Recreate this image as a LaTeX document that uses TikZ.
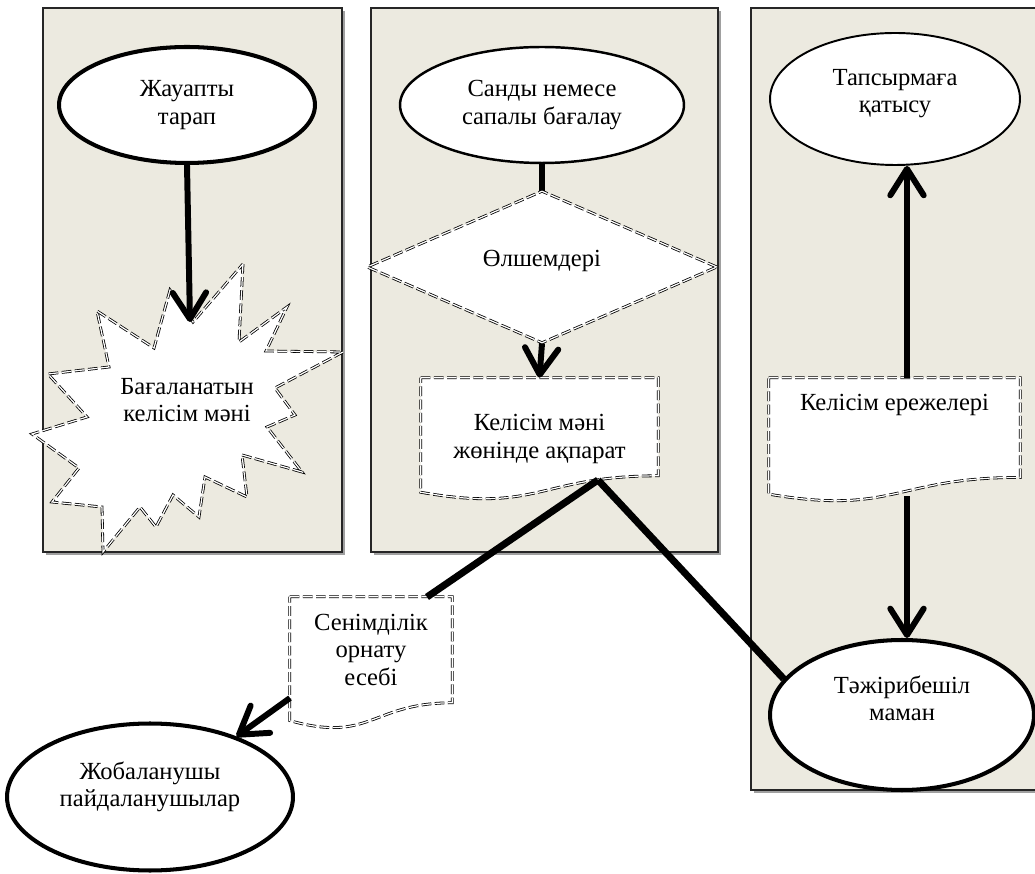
\documentclass[tikz,border=0pt]{standalone}
\usepackage{fontspec}
\setmainfont{Liberation Serif}
\usetikzlibrary{shapes.geometric,arrows.meta,calc}
\definecolor{lanefill}{RGB}{236,234,224}
\definecolor{laneshadow}{RGB}{160,160,160}
\pgfdeclarelayer{lanes}
\pgfdeclarelayer{shapes}
\pgfdeclarelayer{links}
\pgfsetlayers{lanes,shapes,links,main}
\tikzset{>={Straight Barb[length=15pt,width=19pt,round]}}
\tikzset{
  dbl/.style={draw=black,double=white,double distance=0.7pt,line width=0.45pt,dash pattern=on 5.5pt off 2pt},
  lane/.style={fill=lanefill,draw=black!85,line width=0.9pt},
  oval/.style={ellipse,draw,fill=white,inner sep=1pt,align=center},
  docbox/.style={rectangle,inner sep=2pt,align=center}
}
% document symbol drawn round a docbox node
\newcommand\docoutline[1]{%
  \draw[dbl,fill=white] (#1.north west) -- (#1.north east)
    -- ($(#1.north east)!0.8!(#1.south east)$)
    .. controls ($(#1.north)!0.8!(#1.south)$) and ($(#1.north)!1.107!(#1.south)$)
    .. ($(#1.north west)!0.934!(#1.south west)$) -- cycle;}

\begin{document}
\begin{tikzpicture}[x=0.02cm,y=-0.02cm]
\useasboundingbox (0,0) rectangle (1035,874);
\begin{pgfonlayer}{lanes}
\fill[laneshadow] (46,11) rectangle (345,555);
\draw[lane] (43,8) rectangle (342,552);
\fill[laneshadow] (374,11) rectangle (721,555);
\draw[lane] (371,8) rectangle (718,552);
\fill[laneshadow] (754,11) rectangle (1048,793);
\draw[lane] (751,8) rectangle (1045,790);
\end{pgfonlayer}

\begin{scope}[every node/.style={font=\fontsize{14}{15.5}\selectfont}]
\node[oval,line width=2.3pt,minimum width=5.12cm,minimum height=2.32cm] (E1) at (187,105) {Жауапты\\тарап};
\node[oval,line width=1.4pt,minimum width=5.68cm,minimum height=2.32cm] (E2) at (542,105) {Санды немесе\\сапалы бағалау};
\node[oval,line width=1.1pt,minimum width=5cm,minimum height=2.64cm,text depth=9pt] (E3) at (895,99) {Тапсырмаға\\қатысу};
\node[oval,line width=2.3pt,minimum width=5.28cm,minimum height=3cm,text depth=19pt] (E4) at (902,715) {Тәжірибешіл\\маман};
\node[oval,line width=2.3pt,minimum width=5.72cm,minimum height=2.94cm,text depth=15pt] (E5) at (150,797) {Жобаланушы\\пайдаланушылар};
\node[diamond,dbl,fill=white,inner sep=0pt,minimum width=7cm,minimum height=2.24cm,text depth=10pt] (dia) at (542,267) {Өлшемдері};
\node[docbox,minimum width=4.74cm,minimum height=2.44cm] (doc1) at (539.5,439) {Келісім мәні\\жөнінде ақпарат};
\node[docbox,minimum width=3.24cm,minimum height=2.64cm,text depth=15pt] (doc2) at (371,663) {Сенімділік\\орнату\\есебі};
\node[docbox,minimum width=5.02cm,minimum height=2.48cm,text depth=43pt] (doc3) at (894.5,440) {Келісім ережелері};
\node[align=center] (burst) at (187,400) {Бағаланатын\\келісім мәні};
\end{scope}

\coordinate (burstin) at (190,322);
\coordinate (d1out) at (598,480);
\coordinate (d2in) at (427,597);
\coordinate (d2out) at (290,698);
\coordinate (d3in) at (907,378);
\coordinate (d3out) at (907,496);

\begin{pgfonlayer}{shapes}
\draw[dbl,fill=white] (243,264) -- (239,342) -- (287,307) -- (266,351) -- (343,352)
  -- (275,388) -- (295,415) -- (267,427) -- (302,472) -- (242,455) -- (247,497)
  -- (205,477) -- (199,517) -- (173,495) -- (156,527) -- (140,507) -- (103,552)
  -- (102,507) -- (52,502) -- (79,468) -- (32,434) -- (87,417) -- (48,374)
  -- (109,367) -- (97,311) -- (154,348) -- (170,290) -- (193,322) -- cycle;
\docoutline{doc1}
\docoutline{doc2}
\docoutline{doc3}
\end{pgfonlayer}

\begin{pgfonlayer}{links}
\begin{scope}[every edge/.style={draw=black,line width=3.4pt}]
\path [->] (E1.south) edge (burstin);
\path (E2.south) edge [line width=3.8pt] (dia.north);
\path [->] (dia.south) edge (doc1.north);
\path (d1out) edge [line width=4pt] (d2in);
\path (d1out) edge [line width=4pt] (E4.163);
\path [->] (d2out) edge (E5.35);
\path [->] (d3in) edge (E3.south -| d3in);
\path [->] (d3out) edge (E4.north -| d3out);
\end{scope}
\end{pgfonlayer}
\end{tikzpicture}
\end{document}
